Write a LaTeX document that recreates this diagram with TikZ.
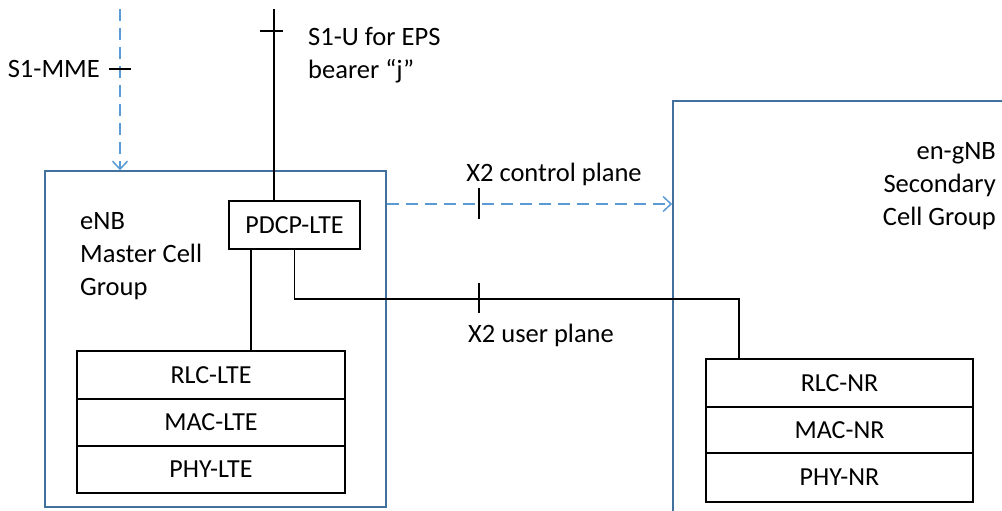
\documentclass[tikz,border=0pt]{standalone}
\usepackage{fontspec}
\setmainfont{Carlito}
\usetikzlibrary{arrows.meta}
\definecolor{boxblue}{RGB}{65,113,156}
\definecolor{dashblue}{RGB}{91,155,213}
\tikzset{
  lbl/.style={inner sep=0pt, font=\fontsize{26.5}{33}\selectfont},
  outerbox/.style={draw=boxblue, line width=1.6pt, inner sep=0pt},
  layer/.style={draw=black, line width=1.6pt, inner sep=0pt, font=\fontsize{26}{30}\selectfont},
  wire/.style={draw=black, line width=1.4pt},
  tick/.style={draw=black, line width=1.4pt},
  ctrl/.style={draw=dashblue, line width=1.5pt, dash pattern=on 12pt off 7pt,
    -{Straight Barb[length=8pt,width=15pt,line width=1.5pt]}}
}
\begin{document}
\begin{tikzpicture}[x=1pt,y=-1pt]
\clip (0,0) rectangle (1002,511);
\fill[white] (0,0) rectangle (1002,511);
% outer boxes
\node[outerbox, minimum width=341pt, minimum height=336pt] (enb) at (215.5,339) {};
\node[outerbox, minimum width=400pt, minimum height=460pt] (gnb) at (873,331) {};
% protocol boxes
\node[layer, minimum width=131pt, minimum height=48pt] (pdcp) at (294.5,225) {PDCP-LTE};
\node[layer, minimum width=268pt, minimum height=48pt] (rlclte) at (211,375) {RLC-LTE};
\node[layer, minimum width=268pt, minimum height=47pt] (maclte) at (211,422.5) {MAC-LTE};
\node[layer, minimum width=268pt, minimum height=47pt] (phylte) at (211,469.5) {PHY-LTE};
\node[layer, minimum width=267pt, minimum height=48pt] (rlcnr) at (839.5,383) {RLC-NR};
\node[layer, minimum width=267pt, minimum height=46pt] (macnr) at (839.5,430) {MAC-NR};
\node[layer, minimum width=267pt, minimum height=49pt] (phynr) at (839.5,477.5) {PHY-NR};
% labels
\node[lbl, anchor=east] (s1mmel) at (100,69) {S1-MME};
\node[lbl, anchor=west, align=left] (s1ul) at (308,55) {S1-U for EPS\\bearer “j”};
\node[lbl, anchor=west, align=left] (enbl) at (80,256) {eNB\\Master Cell\\Group};
\node[lbl, anchor=east, align=right] (gnbl) at (996,186) {en-gNB\\Secondary\\Cell Group};
\node[lbl] (x2cl) at (554,174) {X2 control plane};
\node[lbl] (x2ul) at (541,335) {X2 user plane};
% coordinates
\coordinate (mmetop) at (120,9);
\coordinate (s1utop) at (274,9);
\coordinate (cp) at (0,204);
\coordinate (upc) at (739,299);
\coordinate (rlcdrop) at (251,0);
% S1-MME
\draw[ctrl] (mmetop) -- (mmetop |- enb.north);
\draw[tick] (109,69) -- (131,69);
% S1-U
\draw[wire] (s1utop) -- (s1utop |- pdcp.north);
\draw[tick] (260,31) -- (283,31);
% PDCP to RLC-LTE
\draw[wire] (rlcdrop |- pdcp.south) -- (rlcdrop |- rlclte.north);
% X2 user plane
\draw[wire] (pdcp.south) |- (upc) -- (upc |- rlcnr.north);
\draw[tick] (479,283) -- (479,313);
% X2 control plane
\draw[ctrl] (enb.east |- cp) -- (gnb.west |- cp);
\draw[tick] (479,188) -- (479,219);
\end{tikzpicture}
\end{document}
